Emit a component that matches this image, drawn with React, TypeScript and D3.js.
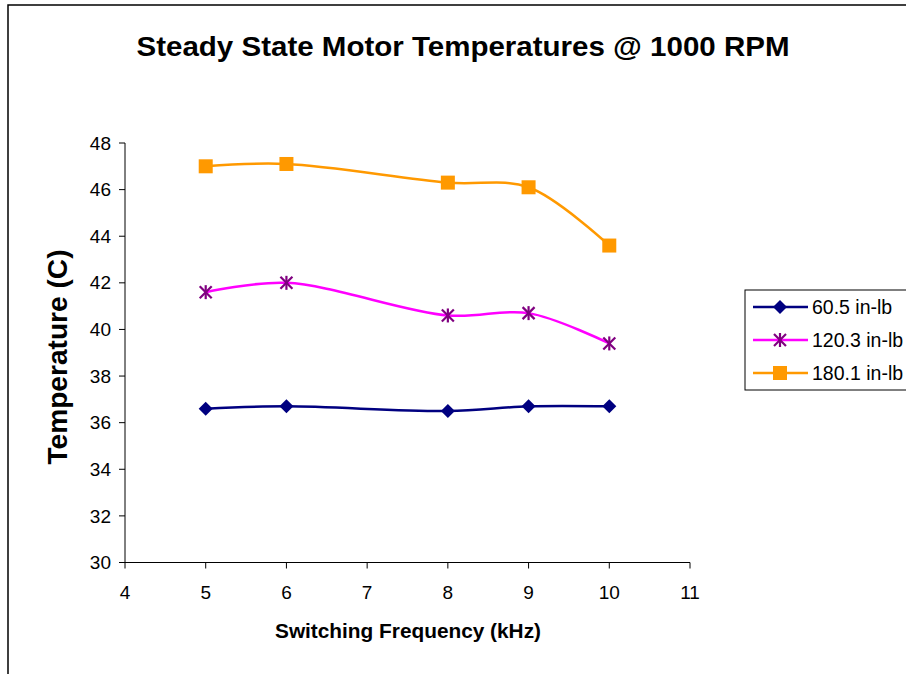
import React from "react";
import * as d3 from "d3";

const frequencies = [5, 6, 8, 9, 10];
const temp605 = [36.6, 36.7, 36.5, 36.7, 36.7];
const temp1203 = [41.6, 42.0, 40.6, 40.7, 39.4];
const temp1801 = [47.0, 47.1, 46.3, 46.1, 43.6];
const seriesNames = ["60.5 in-lb", "120.3 in-lb", "180.1 in-lb"];
const xTicks = [4, 5, 6, 7, 8, 9, 10, 11];
const yTicks = [30, 32, 34, 36, 38, 40, 42, 44, 46, 48];

const W = 906;
const H = 674;
const FONT = "'Liberation Sans', Arial, sans-serif";

const series = [
  { name: seriesNames[0], values: temp605, line: "#000080", marker: "#000080", shape: "diamond" },
  { name: seriesNames[1], values: temp1203, line: "#FF00FF", marker: "#800080", shape: "star" },
  { name: seriesNames[2], values: temp1801, line: "#FF9900", marker: "#FF9900", shape: "square" },
];

function Marker({ shape, x, y, color }: { shape: string; x: number; y: number; color: string }) {
  if (shape === "diamond") {
    const s = 7;
    return <path d={`M${x},${y - s}L${x + s},${y}L${x},${y + s}L${x - s},${y}Z`} fill={color} />;
  }
  if (shape === "square") {
    const s = 7;
    return <rect x={x - s} y={y - s} width={2 * s} height={2 * s} fill={color} />;
  }
  const s = 6;
  return (
    <g stroke={color} strokeWidth={2.2}>
      <line x1={x - s} y1={y - s} x2={x + s} y2={y + s} />
      <line x1={x - s} y1={y + s} x2={x + s} y2={y - s} />
      <line x1={x} y1={y - s - 1} x2={x} y2={y + s + 1} />
    </g>
  );
}

export default function App() {
  const x = d3.scaleLinear().domain([4, 11]).range([125, 690]);
  const y = d3.scaleLinear().domain([30, 48]).range([562.5, 143]);
  const line = d3
    .line<number>()
    .x((_, i) => x(frequencies[i]))
    .y((d) => y(d))
    .curve(d3.curveCatmullRom.alpha(0.5));

  const legendRows = [307, 340, 373];

  return (
    <svg width={W} height={H} style={{ position: "absolute", left: 0, top: 0, display: "block" }}>
      <rect x={0} y={0} width={W} height={H} fill="#fff" />
      <rect x={8} y={5} width={W + 20} height={H + 20} fill="none" stroke="#000" strokeWidth={1.5} />
      <text x={463} y={56} textAnchor="middle" fontFamily={FONT} fontWeight="bold" fontSize={28} textLength={653} lengthAdjust="spacingAndGlyphs">
        Steady State Motor Temperatures @ 1000 RPM
      </text>

      {/* axes */}
      <line x1={x(4)} y1={y(30)} x2={x(4)} y2={y(48)} stroke="#000" strokeWidth={1} />
      <line x1={x(4)} y1={y(30)} x2={x(11)} y2={y(30)} stroke="#000" strokeWidth={1} />
      {yTicks.map((t) => (
        <g key={"y" + t}>
          <line x1={x(4) - 6} x2={x(4)} y1={y(t)} y2={y(t)} stroke="#000" />
          <text x={x(4) - 14} y={y(t)} dy="0.35em" textAnchor="end" fontFamily={FONT} fontSize={19}>
            {t}
          </text>
        </g>
      ))}
      {xTicks.map((t) => (
        <g key={"x" + t}>
          <line x1={x(t)} x2={x(t)} y1={y(30)} y2={y(30) + 6} stroke="#000" />
          <text x={x(t)} y={y(30) + 36} textAnchor="middle" fontFamily={FONT} fontSize={19}>
            {t}
          </text>
        </g>
      ))}
      <text x={408} y={638} textAnchor="middle" fontFamily={FONT} fontWeight="bold" fontSize={20} textLength={266} lengthAdjust="spacingAndGlyphs">
        Switching Frequency (kHz)
      </text>
      <text
        transform={`translate(67,357) rotate(-90)`}
        textAnchor="middle"
        fontFamily={FONT}
        fontWeight="bold"
        fontSize={27}
        textLength={215}
        lengthAdjust="spacingAndGlyphs"
      >
        Temperature (C)
      </text>

      {series.map((s) => (
        <g key={s.name}>
          <path d={line(s.values) || ""} fill="none" stroke={s.line} strokeWidth={2.5} />
          {s.values.map((v, i) => (
            <Marker key={i} shape={s.shape} x={x(frequencies[i])} y={y(v)} color={s.marker} />
          ))}
        </g>
      ))}

      {/* legend */}
      <rect x={745} y={290} width={200} height={100} fill="#fff" stroke="#000" strokeWidth={1} />
      {series.map((s, i) => (
        <g key={"leg" + s.name}>
          <line x1={753} x2={808} y1={legendRows[i]} y2={legendRows[i]} stroke={s.line} strokeWidth={2.5} />
          <Marker shape={s.shape} x={780} y={legendRows[i]} color={s.marker} />
          <text x={812} y={legendRows[i]} dy="0.35em" fontFamily={FONT} fontSize={19.5}>
            {s.name}
          </text>
        </g>
      ))}
    </svg>
  );
}
